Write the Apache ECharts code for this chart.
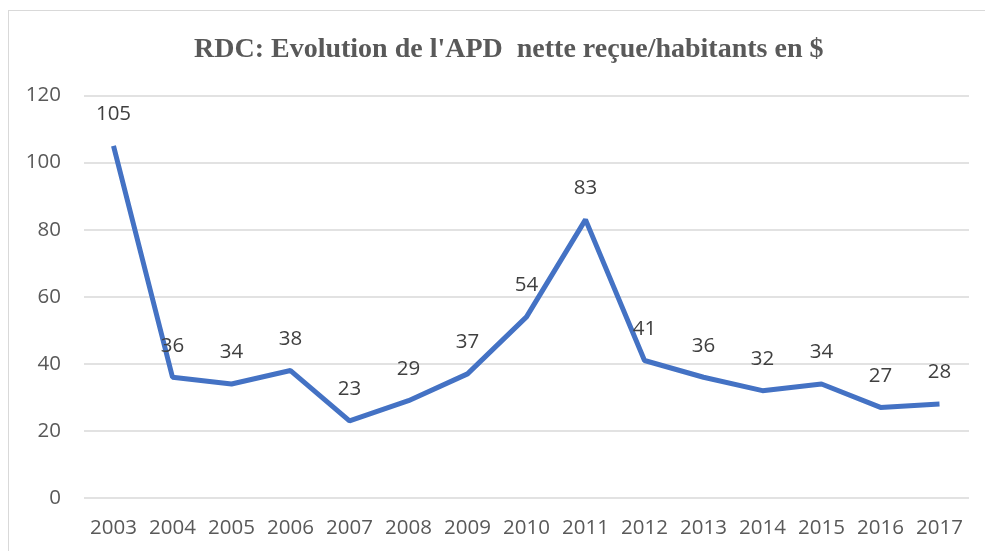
<!DOCTYPE html>
<html>
<head>
<meta charset="utf-8">
<script src="https://cdn.jsdelivr.net/npm/echarts@6/dist/echarts.min.js"></script>
<style>
  html, body { margin: 0; padding: 0; background: #fff; }
  #chart { width: 985px; height: 551px; }
  #frame { position: absolute; left: 8px; top: 10px; width: 990px; height: 560px; border: 1.5px solid #d9d9d9; box-sizing: border-box; pointer-events: none; }
</style>
</head>
<body>
<div id="chart"></div>
<div id="frame"></div>
<script>
// annees et valeurs (APD nette recue par habitant, en $)
var years = ["2003", "2004", "2005", "2006", "2007", "2008", "2009", "2010", "2011", "2012", "2013", "2014", "2015", "2016", "2017"];
var apd = [105, 36, 34, 38, 23, 29, 37, 54, 83, 41, 36, 32, 34, 27, 28];
var yTicks = { min: 0, max: 120, step: 20 };

var myChart = echarts.init(document.getElementById("chart"));
myChart.setOption({
  animation: false,
  title: {
    text: "RDC: Evolution de l'APD  nette reçue/habitants en $",
    left: 189,
    top: 31,
    textStyle: {
      fontFamily: "Liberation Serif",
      fontWeight: "bold",
      fontSize: 28,
      color: "#595959",
    },
  },
  grid: {
    left: 84,
    right: 16,
    top: 95.5,
    bottom: 53,
  },
  xAxis: {
    type: "category",
    data: years,
    boundaryGap: true,
    axisLine: { show: false },
    axisTick: { show: false },
    axisLabel: {
      interval: 0,
      margin: 20,
      fontFamily: "Open Sans",
      fontSize: 20.5,
      color: "#595959",
    },
  },
  yAxis: {
    type: "value",
    min: yTicks.min,
    max: yTicks.max,
    interval: yTicks.step,
    axisLine: { show: false },
    axisTick: { show: false },
    axisLabel: {
      margin: 23,
      fontFamily: "Open Sans",
      fontSize: 20.5,
      color: "#595959",
    },
    splitLine: { lineStyle: { color: "#d9d9d9", width: 1.5 } },
  },
  series: [
    {
      type: "line",
      data: apd,
      symbol: "circle",
      symbolSize: 2,
      showAllSymbol: true,
      itemStyle: { color: "rgba(0,0,0,0)" },
      lineStyle: { color: "#4472c4", width: 5 },
      label: {
        show: true,
        position: "top",
        distance: 20,
        fontFamily: "Open Sans",
        fontSize: 20.5,
        color: "#404040",
      },
    },
  ],
});
</script>
</body>
</html>
